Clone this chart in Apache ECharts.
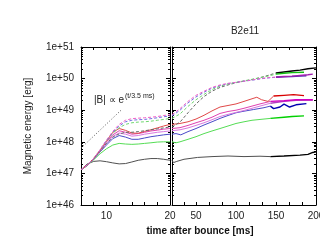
<!DOCTYPE html>
<html><head><meta charset="utf-8">
<script src="https://cdn.jsdelivr.net/npm/echarts@6/dist/echarts.min.js"></script>
<style>html,body{margin:0;padding:0;background:#fff;overflow:hidden}#c{width:340px;height:252px}</style>
</head><body><div id="c"></div>
<script>
// ---- tick labels ----
const yMajor = [1e46, 1e47, 1e48, 1e49, 1e50, 1e51];
const yLabels = ['1e+46', '1e+47', '1e+48', '1e+49', '1e+50', '1e+51'];
const leftXLabels = [10, 20];
const rightXLabels = [50, 100, 150, 200];
const rightXTicks = [20, 35, 50, 66.7, 83.3, 100, 116.7, 133.3, 150, 166.7, 183.3, 200];

// ---- left panel (t = 6..20 ms) ----
const leftT = [6, 7, 8, 9, 10, 11, 12, 13, 14, 15, 16, 17, 18, 19, 20];
const blackL   = [1.3e47, 2.0e47, 2.4e47, 2.5e47, 2.35e47, 2.15e47, 2.0e47, 2.05e47, 2.3e47, 2.6e47, 2.8e47, 2.95e47, 2.95e47, 2.8e47, 2.6e47];
const greenL   = [1.3e47, 1.8e47, 2.7e47, 4.2e47, 6.0e47, 7.9e47, 8.9e47, 8.5e47, 8.3e47, 8.5e47, 8.9e47, 9.3e47, 9.8e47, 1.0e48, 1.0e48];
const blueL    = [1.3e47, 1.8e47, 2.8e47, 4.8e47, 7.9e47, 1.26e48, 1.58e48, 1.41e48, 1.2e48, 1.2e48, 1.32e48, 1.45e48, 1.55e48, 1.66e48, 1.74e48];
const violetL  = [1.3e47, 1.8e47, 2.9e47, 5.0e47, 8.9e47, 1.48e48, 1.9e48, 1.74e48, 1.51e48, 1.58e48, 1.74e48, 1.86e48, 2.0e48, 2.1e48, 2.2e48];
const magentaL = [1.3e47, 1.86e47, 2.95e47, 5.25e47, 1.0e48, 1.66e48, 2.24e48, 2.0e48, 1.74e48, 1.82e48, 2.0e48, 2.2e48, 2.34e48, 2.51e48, 2.63e48];
const redL     = [1.3e47, 1.86e47, 3.0e47, 5.5e47, 1.05e48, 2.0e48, 2.63e48, 2.3e48, 1.9e48, 1.86e48, 2.14e48, 2.4e48, 2.75e48, 3.16e48, 3.55e48];
const magentaDashL = [1.3e47, 1.86e47, 3.0e47, 5.6e47, 1.12e48, 2.14e48, 3.55e48, 4.8e48, 5.4e48, 5.6e48, 5.75e48, 6.0e48, 6.3e48, 6.8e48, 7.2e48];
const blueDashL    = [1.3e47, 1.86e47, 3.0e47, 5.6e47, 1.1e48, 2.0e48, 3.16e48, 4.3e48, 4.8e48, 5.0e48, 5.1e48, 5.4e48, 5.75e48, 6.2e48, 6.6e48];
const greenDashL   = [1.3e47, 1.8e47, 2.95e47, 5.5e47, 1.05e48, 1.86e48, 2.8e48, 3.55e48, 4.0e48, 4.2e48, 4.3e48, 4.5e48, 4.8e48, 5.1e48, 5.5e48];
const blackDashL   = [1.3e47, 1.8e47, 2.9e47, 5.0e47, 8.9e47, 1.41e48, 1.78e48, 2.0e48, 2.0e48, 2.1e48, 2.24e48, 2.4e48, 2.57e48, 2.75e48, 2.95e48];
const guideLine    = [[6, 6.3e47], [12.3, 1e49]];

// ---- right panel (t = 20..200 ms), [t, E] ----
const magentaDashR = [[20,7.2e48],[30,1.12e49],[40,1.9e49],[50,2.95e49],[60,3.98e49],[70,5.25e49],[80,6.3e49],[90,7.1e49],[100,7.6e49],[110,8.3e49],[120,9.1e49],[130,1.0e50],[140,1.07e50],[150,1.12e50],[160,1.17e50],[170,1.2e50],[180,1.26e50],[190,1.32e50],[196,1.38e50]];
const blueDashR = [[20,6.6e48],[30,1.0e49],[40,1.7e49],[50,2.63e49],[60,3.7e49],[70,5.0e49],[80,6.0e49],[90,6.9e49],[100,7.6e49],[110,8.3e49],[120,8.9e49],[130,9.8e49],[140,1.05e50],[150,1.1e50],[160,1.15e50],[170,1.17e50],[180,1.2e50],[188,1.23e50]];
const greenDashR = [[20,5.5e48],[30,7.6e48],[40,1.32e49],[50,2.14e49],[60,3.16e49],[70,4.5e49],[80,5.75e49],[90,6.8e49],[100,7.6e49],[110,8.5e49],[120,9.5e49],[130,1.07e50],[140,1.2e50],[150,1.38e50],[160,1.48e50],[170,1.55e50],[185,1.58e50]];
const blackDashR = [[20,2.95e48],[30,4.2e48],[40,8.3e48],[50,1.58e49],[60,2.7e49],[70,4.0e49],[80,5.25e49],[90,6.3e49],[100,7.4e49],[110,8.3e49],[120,9.3e49],[130,1.07e50],[140,1.26e50],[150,1.51e50],[160,1.62e50],[170,1.74e50],[180,1.86e50],[190,2.04e50],[200,2.19e50]];
const redR = [[20,3.55e48],[30,3.8e48],[40,4.3e48],[50,5.25e48],[60,6.9e48],[70,9.5e48],[80,1.26e49],[90,1.41e49],[100,1.58e49],[110,1.9e49],[120,2.3e49],[126,2.57e49],[132,2.14e49],[140,1.9e49],[147,2.8e49],[160,2.95e49],[172,3.1e49],[185,2.9e49]];
const magentaR = [[20,2.63e48],[30,2.8e48],[40,3.3e48],[50,4.0e48],[60,4.8e48],[70,6.0e48],[80,7.9e48],[90,9.1e48],[100,1.0e49],[110,1.15e49],[120,1.35e49],[130,1.58e49],[143,1.9e49],[160,2.0e49],[175,2.14e49],[196,2.14e49]];
const violetR = [[20,2.24e48],[30,2.4e48],[40,2.75e48],[50,3.3e48],[60,4.0e48],[70,5.0e48],[80,6.3e48],[90,7.4e48],[100,8.5e48],[110,9.8e48],[120,1.15e49],[130,1.35e49],[143,1.66e49],[160,1.9e49],[175,2.04e49],[196,2.1e49]];
const blueR = [[20,1.74e48],[25,1.82e48],[31,1.66e48],[40,2.1e48],[50,2.63e48],[60,3.4e48],[70,4.3e48],[80,5.5e48],[90,6.8e48],[100,8.3e48],[110,9.3e48],[122,1.05e49],[135,1.2e49],[143,1.35e49],[147,1.12e49],[155,1.26e49],[160,1.55e49],[167,1.26e49],[175,1.48e49],[188,1.62e49]];
const greenR = [[20,1.0e48],[25,9.3e47],[30,1.0e48],[40,1.2e48],[50,1.45e48],[60,1.82e48],[70,2.2e48],[80,2.63e48],[90,3.16e48],[100,3.8e48],[110,4.3e48],[120,4.8e48],[130,5.1e48],[143,5.5e48],[160,6.0e48],[170,6.3e48],[185,6.6e48]];
const blackR = [[20,2.6e47],[22,2.2e47],[26,2.4e47],[35,2.8e47],[52,3.2e47],[70,3.4e47],[90,3.55e47],[110,3.4e47],[130,3.5e47],[143,3.4e47],[160,3.55e47],[180,3.8e47],[190,4.0e47],[196,4.6e47],[200,4.8e47]];

const FONT = 'Liberation Sans, Arial, sans-serif';
const chart = echarts.init(document.getElementById('c'), null, {renderer: 'canvas', width: 340, height: 252});

const yMinor = [];
for (let k = 0; k < yMajor.length - 1; k++) for (let m = 2; m <= 9; m++) yMinor.push(yMajor[k] * m);

const axLine = {show: true, onZero: false, lineStyle: {color: '#000', width: 1}};
function yLabelFor(v) {
  const e = Math.round(Math.log10(v));
  const i = yMajor.findIndex(m => Math.round(Math.log10(m)) === e);
  return i >= 0 ? yLabels[i] : '';
}
function yAx(grid, pos, labels, minor) {
  return {
    type: 'log', logBase: 10, gridIndex: grid, min: 1e46, max: 1e51, position: pos,
    axisLine: minor ? {show: false} : axLine,
    axisTick: minor ? {inside: true, length: 2, customValues: yMinor, lineStyle: {color: '#000'}}
                    : {inside: true, length: 4, lineStyle: {color: '#000'}},
    axisLabel: labels ? {
      show: true, fontSize: 10, color: '#222', margin: 7, fontFamily: FONT,
      showMinLabel: true, showMaxLabel: true, formatter: yLabelFor
    } : {show: false},
    splitLine: {show: false}, minorTick: {show: false}
  };
}
const yAxes = [
  yAx(0, 'left', true, false), yAx(0, 'right', false, false),
  yAx(1, 'left', false, false), yAx(1, 'right', false, false),
  yAx(0, 'left', false, true), yAx(0, 'right', false, true),
  yAx(1, 'left', false, true), yAx(1, 'right', false, true)
];
function xLeft(pos, labels) {
  return {
    type: 'value', gridIndex: 0, min: 6, max: 20, interval: 2, position: pos,
    axisLine: axLine, axisTick: {inside: true, length: 3, lineStyle: {color: '#000'}},
    axisLabel: labels ? {show: true, fontSize: 10, color: '#222', margin: 6, fontFamily: FONT, customValues: leftXLabels, alignMaxLabel: 'center'} : {show: false},
    splitLine: {show: false}
  };
}
function xRight(pos, labels) {
  return {
    type: 'value', gridIndex: 1, min: 20, max: 200, position: pos,
    axisLine: axLine, axisTick: {inside: true, length: 3, customValues: rightXTicks, lineStyle: {color: '#000'}},
    axisLabel: labels ? {show: true, fontSize: 10, color: '#222', margin: 6, fontFamily: FONT, customValues: rightXLabels, alignMaxLabel: 'center', hideOverlap: false} : {show: false},
    splitLine: {show: false}
  };
}
const xAxes = [xLeft('bottom', true), xLeft('top', false), xRight('bottom', true), xRight('top', false)];

const DASH = [3, 2];
function base(xi, yi, data, color, width, type, z) {
  return {type: 'line', xAxisIndex: xi, yAxisIndex: yi, data, showSymbol: false, symbol: 'none',
    lineStyle: {color, width, type}, silent: true, animation: false, z: z || 2, clip: true};
}
function leftS(vals, color, dashed) {
  return base(0, 0, leftT.map((t, i) => [t, vals[i]]), color, 1, dashed ? DASH : 'solid');
}
function rightS(pairs, light, dark, dashed) {
  let idx = pairs.findIndex(p => p[0] >= 143);
  if (idx < 0) idx = pairs.length - 1;
  const out = [base(2, 2, pairs.slice(0, idx + 1), light, 1, dashed ? DASH : 'solid')];
  const late = pairs.slice(idx);
  if (late.length > 1) out.push(base(2, 2, late, dark, 1.4, 'solid', 3));
  return out;
}

const C = {
  black: ['#505050', '#000000'], green: ['#55dd55', '#00d000'], blue: ['#4a4ac8', '#0000b0'],
  violet: ['#d878e0', '#b040c0'], magenta: ['#e040b0', '#d000c0'], red: ['#e04848', '#d80000'],
  mdash: ['#f060c8', '#a020b0'], bdash: ['#7070e0', '#5030b0'], gdash: ['#70d870', '#10c010'], kdash: ['#666666', '#000000']
};

const series = [
  base(0, 0, guideLine, '#555', 1, [1, 2]),
  leftS(blackL, C.black[0]), leftS(greenL, C.green[0]), leftS(blueL, C.blue[0]),
  leftS(violetL, C.violet[0]), leftS(magentaL, C.magenta[0]), leftS(redL, C.red[0]),
  leftS(blackDashL, C.kdash[0], true), leftS(greenDashL, C.gdash[0], true),
  leftS(blueDashL, C.bdash[0], true), leftS(magentaDashL, C.mdash[0], true),
  ...rightS(blackR, C.black[0], C.black[1]), ...rightS(greenR, C.green[0], C.green[1]),
  ...rightS(blueR, C.blue[0], C.blue[1]), ...rightS(violetR, C.violet[0], C.violet[1]),
  ...rightS(magentaR, C.magenta[0], C.magenta[1]), ...rightS(redR, C.red[0], C.red[1]),
  ...rightS(blackDashR, C.kdash[0], C.kdash[1], true), ...rightS(greenDashR, C.gdash[0], C.gdash[1], true),
  ...rightS(blueDashR, C.bdash[0], C.bdash[1], true), ...rightS(magentaDashR, C.mdash[0], C.mdash[1], true)
];

chart.setOption({
  animation: false,
  backgroundColor: '#fff',
  grid: [
    {left: 81, top: 47, width: 89, height: 158, containLabel: false},
    {left: 172, top: 47, width: 144, height: 158, containLabel: false}
  ],
  xAxis: xAxes,
  yAxis: yAxes,
  series,
  graphic: [
    {type: 'text', x: 245, y: 31, style: {text: 'B2e11', fill: '#222', font: '10px ' + FONT, align: 'center', verticalAlign: 'middle'}},
    {type: 'text', x: 28, y: 126, rotation: Math.PI / 2, style: {text: 'Magnetic energy [erg]', fill: '#222', font: '10px ' + FONT, align: 'center', verticalAlign: 'middle'}},
    {type: 'text', x: 200, y: 231, style: {text: 'time after bounce [ms]', fill: '#111', font: 'bold 10px ' + FONT, align: 'center', verticalAlign: 'middle'}},
    {type: 'text', x: 94, y: 100, style: {text: '|B| \u221d e', fill: '#222', font: '10px ' + FONT, align: 'left', verticalAlign: 'middle'}},
    {type: 'text', x: 125, y: 96, style: {text: '(t/3.5 ms)', fill: '#222', font: '7px ' + FONT, align: 'left', verticalAlign: 'middle'}}
  ]
});
</script></body></html>
